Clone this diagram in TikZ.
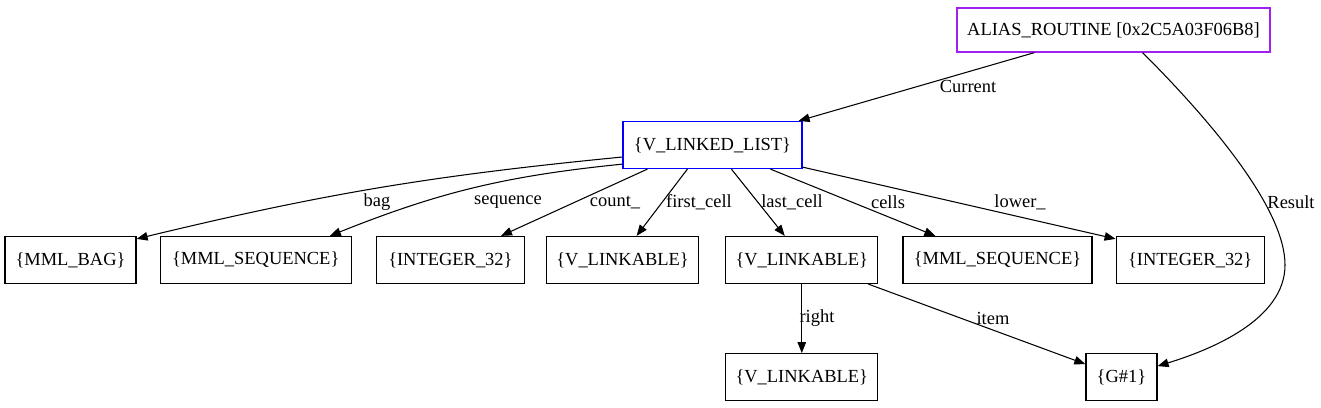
\documentclass[tikz,border=0pt]{standalone}
\usepackage{fontspec}
\setmainfont{Liberation Serif}
\usepackage{xcolor}
\usetikzlibrary{arrows.meta, positioning, calc}
\definecolor{aliaspurple}{RGB}{160,32,240}
\tikzstyle{cls} = [rectangle, draw, line width=0.7pt, minimum height=0.94cm, inner xsep=0.1cm, font=\fontsize{10.5}{12}\selectfont]
\tikzstyle{edge} = [line width=0.6pt, -{Triangle[length=0.22cm, width=0.17cm]}]
\tikzstyle{lbl} = [font=\fontsize{10.5}{12}\selectfont, inner sep=0pt]

\begin{document}
\begin{tikzpicture}[x=0.02cm, y=-0.02cm]
\useasboundingbox (0,0) rectangle (1321,407);

% Root and list
\node[cls, draw=aliaspurple, minimum height=0.88cm, minimum width=6.26cm] (alias) at (1113.5,30) {ALIAS\_ROUTINE [0x2C5A03F06B8]};
\node[cls, draw=blue, minimum width=3.58cm] (vll) at (712.5,145) {\{V\_LINKED\_LIST\}};

% Attribute row
\node[cls, minimum width=2.62cm] (bag) at (70.5,260) {\{MML\_BAG\}};
\node[cls, minimum width=3.82cm, right=0.46cm of bag] (seq) {\{MML\_SEQUENCE\}};
\node[cls, minimum width=2.96cm, right=0.48cm of seq] (cnt) {\{INTEGER\_32\}};
\node[cls, minimum width=3.04cm, right=0.42cm of cnt] (first) {\{V\_LINKABLE\}};
\node[cls, minimum width=3.04cm, right=0.52cm of first] (last) {\{V\_LINKABLE\}};
\node[cls, minimum width=3.78cm, right=0.48cm of last] (cells) {\{MML\_SEQUENCE\}};
\node[cls, minimum width=2.96cm, right=0.46cm of cells] (lower) {\{INTEGER\_32\}};

% Bottom row
\node[cls, minimum width=3.04cm, below=1.38cm of last] (right) {\{V\_LINKABLE\}};
\node[cls, minimum width=1.42cm, right=4.14cm of right] (item) {\{G\#1\}};

% Edge labels
\node[lbl] (lcur) at (968,86) {Current};
\node[lbl] (lres) at (1291,202) {Result};
\node[lbl] (lbag) at (377,202) {bag};
\node[lbl] (lseq) at (508,202) {sequence};
\node[lbl] (lcnt) at (615,202) {count\_};
\node[lbl] (lfirst) at (699,202) {first\_cell};
\node[lbl] (llast) at (792,202) {last\_cell};
\node[lbl] (lcells) at (888,202) {cells};
\node[lbl] (llower) at (1020,202) {lower\_};
\node[lbl] (lright) at (817,318) {right};
\node[lbl] (litem) at (993,318) {item};

\coordinate (bulge) at (1285,265);

% Arrows
\draw[edge] ($(alias.south west)+(78,0)$) -- ($(vll.north east)+(-4,0)$);
\draw[edge] ($(alias.south east)+(-128,0)$) .. controls (1215,125) and (1285,210) .. (bulge)
  .. controls (1285,320) and (1210,350) .. ($(item.north east)+(0,13)$);

\draw[edge] ($(vll.west)+(0,12)$) to[bend right=4] ($(bag.north east)+(0,3)$);
\draw[edge] ($(vll.south west)+(0,-5)$) to[bend right=8] ($(seq.north east)+(-22,0)$);
\draw[edge] ($(vll.south west)+(25,0)$) -- ($(cnt.north east)+(-24,0)$);
\draw[edge] ($(vll.south west)+(65,0)$) -- ($(first.north)+(14,0)$);
\draw[edge] ($(vll.south west)+(109,0)$) -- ($(last.north)+(-17,0)$);
\draw[edge] ($(vll.south west)+(148,0)$) -- ($(cells.north west)+(33,0)$);
\draw[edge] ($(vll.south east)+(0,-2)$) -- ($(lower.north west)+(0,3)$);

\draw[edge] (last) -- (right);
\draw[edge] ($(last.south east)+(-10,0)$) -- ($(item.north west)+(0,11)$);

\end{tikzpicture}
\end{document}
